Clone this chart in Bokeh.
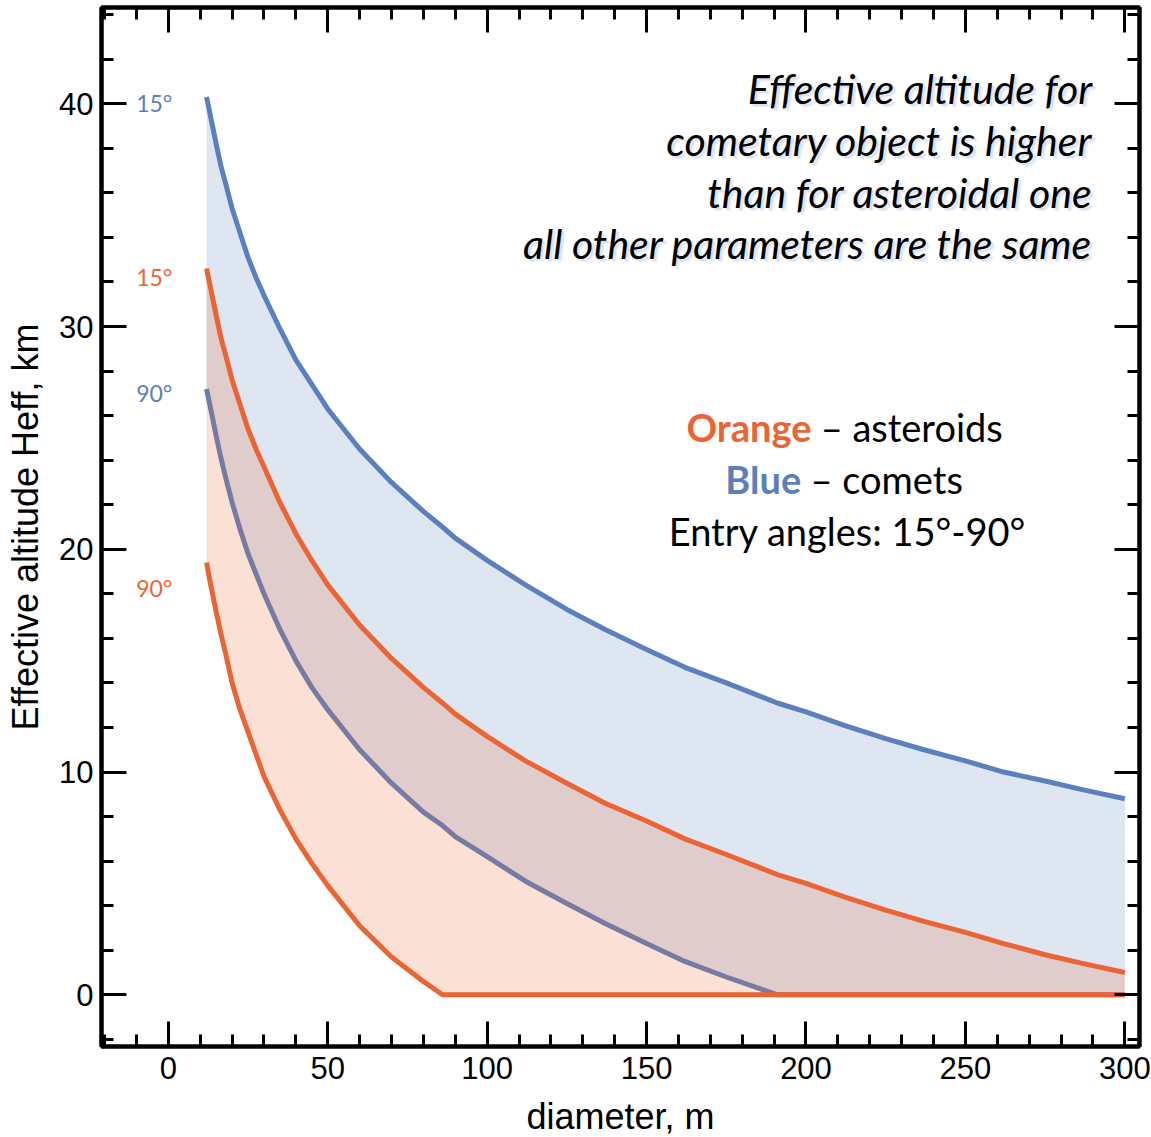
from bokeh.plotting import figure
from bokeh.models import Range1d, LinearAxis, SingleIntervalTicker, Label
from bokeh.embed import file_html
from bokeh.resources import INLINE

# ---- data ----
diameter = [12, 13, 14, 15, 16.5, 18, 20, 22.5, 25, 27.5, 30, 35, 40, 45, 50, 60, 70, 80, 86, 90,
            100, 112, 125, 137, 150, 162, 175, 191, 200, 212, 225, 237, 250, 262, 275, 287, 300]
comet_15 = [40.3, 39.6, 38.9, 38.2, 37.2, 36.4, 35.3, 34.2, 33.1, 32.2, 31.4, 29.9, 28.5, 27.4, 26.3, 24.5, 23.0, 21.7, 21.0, 20.5,
            19.5, 18.4, 17.3, 16.4, 15.5, 14.7, 14.0, 13.1, 12.7, 12.1, 11.5, 11.0, 10.5, 10.0, 9.6, 9.2, 8.8]
aster_15 = [32.6, 31.9, 31.2, 30.5, 29.5, 28.7, 27.6, 26.5, 25.4, 24.5, 23.7, 22.1, 20.7, 19.5, 18.4, 16.6, 15.1, 13.8, 13.1, 12.6,
            11.6, 10.5, 9.5, 8.6, 7.8, 7.0, 6.3, 5.4, 5.0, 4.4, 3.8, 3.3, 2.8, 2.3, 1.8, 1.4, 1.0]
comet_90 = [27.2, 26.5, 25.8, 25.1, 24.1, 23.2, 22.1, 20.9, 19.8, 18.9, 18.0, 16.4, 15.0, 13.8, 12.8, 11.0, 9.5, 8.2, 7.6, 7.1,
            6.2, 5.1, 4.1, 3.2, 2.3, 1.5, 0.8, 0.0, 0.0, 0.0, 0.0, 0.0, 0.0, 0.0, 0.0, 0.0, 0.0]
aster_90 = [19.4, 18.6, 17.9, 17.2, 16.2, 15.3, 14.0, 12.8, 11.8, 10.8, 9.8, 8.3, 7.0, 5.9, 4.9, 3.1, 1.7, 0.6, 0.0, 0.0,
            0.0, 0.0, 0.0, 0.0, 0.0, 0.0, 0.0, 0.0, 0.0, 0.0, 0.0, 0.0, 0.0, 0.0, 0.0, 0.0, 0.0]

x_ticks_interval = 50
y_ticks_interval = 10
x_label = "diameter, m"
y_label = "Effective altitude Heff, km"
note_lines = ["Effective altitude for", "cometary object is higher",
              "than for asteroidal one", "all other parameters are the same"]
angle_labels = ["15°", "15°", "90°", "90°"]

# ---- style ----
BLUE = "#5b80bd"
ORANGE = "#eb6434"
FONT = "Liberation Sans"
TFONT = "Lato"

p = figure(frame_width=1038, frame_height=1039, output_backend="svg", toolbar_location=None,
           x_range=Range1d(-20.96, 304.6), y_range=Range1d(-2.32, 44.32),
           min_border_left=101, min_border_right=12, min_border_top=7, min_border_bottom=91,
           x_axis_location=None, y_axis_location=None)
p.grid.visible = False
p.outline_line_color = "black"
p.outline_line_width = 4
p.background_fill_color = "white"
p.border_fill_color = "white"

def make_axis(show_labels, label=None):
    ax = LinearAxis()
    ax.axis_line_width = 4
    ax.axis_line_color = "black"
    ax.major_tick_in = 25
    ax.major_tick_out = 0
    ax.minor_tick_in = 12
    ax.minor_tick_out = 0
    ax.major_tick_line_width = 3
    ax.minor_tick_line_width = 3
    if show_labels:
        ax.major_label_text_font = FONT
        ax.major_label_text_font_size = "31px"
        ax.major_label_text_color = "black"
        ax.axis_label = label
        ax.axis_label_text_font = FONT
        ax.axis_label_text_font_size = "36px"
        ax.axis_label_text_font_style = "normal"
        ax.axis_label_text_color = "black"
    else:
        ax.major_label_text_font_size = "0px"
        ax.major_label_text_color = None
        ax.major_label_standoff = 0
    return ax

xb = make_axis(True, x_label)
xb.ticker = SingleIntervalTicker(interval=x_ticks_interval, num_minor_ticks=5)
xb.major_label_standoff = 10
xb.axis_label_standoff = 14
p.add_layout(xb, "below")

yl = make_axis(True, y_label)
yl.ticker = SingleIntervalTicker(interval=y_ticks_interval, num_minor_ticks=5)
yl.major_label_standoff = 8
yl.axis_label_standoff = 10
p.add_layout(yl, "left")

xt = make_axis(False)
xt.ticker = SingleIntervalTicker(interval=x_ticks_interval, num_minor_ticks=5)
p.add_layout(xt, "above")

yr = make_axis(False)
yr.ticker = SingleIntervalTicker(interval=y_ticks_interval, num_minor_ticks=5)
p.add_layout(yr, "right")

# ---- bands and curves ----
p.varea(x=diameter, y1=comet_90, y2=comet_15, fill_color=BLUE, fill_alpha=0.2)
p.line(diameter, comet_15, line_color=BLUE, line_width=5)
p.line(diameter, comet_90, line_color=BLUE, line_width=5)
p.varea(x=diameter, y1=aster_90, y2=aster_15, fill_color=ORANGE, fill_alpha=0.2)
p.line(diameter, aster_15, line_color=ORANGE, line_width=5)
p.line(diameter, aster_90, line_color=ORANGE, line_width=5)

# ---- angle labels ----
ang_x = [-10.1, -10.1, -10.1, -10.1]
ang_y = [40.05, 32.24, 27.03, 18.28]
ang_c = [BLUE, ORANGE, BLUE, ORANGE]
for xx, yy, t, c in zip(ang_x, ang_y, angle_labels, ang_c):
    p.add_layout(Label(x=xx, y=yy, text=t, text_color=c, text_font=TFONT,
                       text_font_size="23px", text_align="left", text_baseline="middle"))

# ---- italic note (with soft shadow) ----
note_y = [40.69, 38.35, 36.01, 33.72]
for yy, t in zip(note_y, note_lines):
    for dx, dy, a in [(4, -3, 0.12), (3, -3, 0.15), (2, -2, 0.2)]:
        p.add_layout(Label(x=289.8, y=yy, text=t, text_color="#9fb2d8", text_alpha=a,
                           x_offset=dx, y_offset=dy, text_font=TFONT, text_font_style="italic",
                           text_font_size="41px", text_align="right", text_baseline="middle"))
    p.add_layout(Label(x=289.8, y=yy, text=t, text_color="black", text_font=TFONT,
                       text_font_style="italic", text_font_size="41px",
                       text_align="right", text_baseline="middle"))

# ---- colour key ----
KS = "38px"
p.add_layout(Label(x=201.7, y=25.47, text="Orange", text_color=ORANGE, text_font=TFONT,
                   text_font_style="bold", text_font_size=KS, text_align="right", text_baseline="middle"))
p.add_layout(Label(x=204.6, y=25.47, text="– asteroids", text_color="black", text_font=TFONT,
                   text_font_size=KS, text_align="left", text_baseline="middle"))
p.add_layout(Label(x=198.5, y=23.14, text="Blue", text_color=BLUE, text_font=TFONT,
                   text_font_style="bold", text_font_size=KS, text_align="right", text_baseline="middle"))
p.add_layout(Label(x=201.4, y=23.14, text="– comets", text_color="black", text_font=TFONT,
                   text_font_size=KS, text_align="left", text_baseline="middle"))
p.add_layout(Label(x=213.0, y=20.84, text="Entry angles: 15°-90°", text_color="black", text_font=TFONT,
                   text_font_size=KS, text_align="center", text_baseline="middle"))

open("out.html", "w").write(file_html(p, INLINE))
